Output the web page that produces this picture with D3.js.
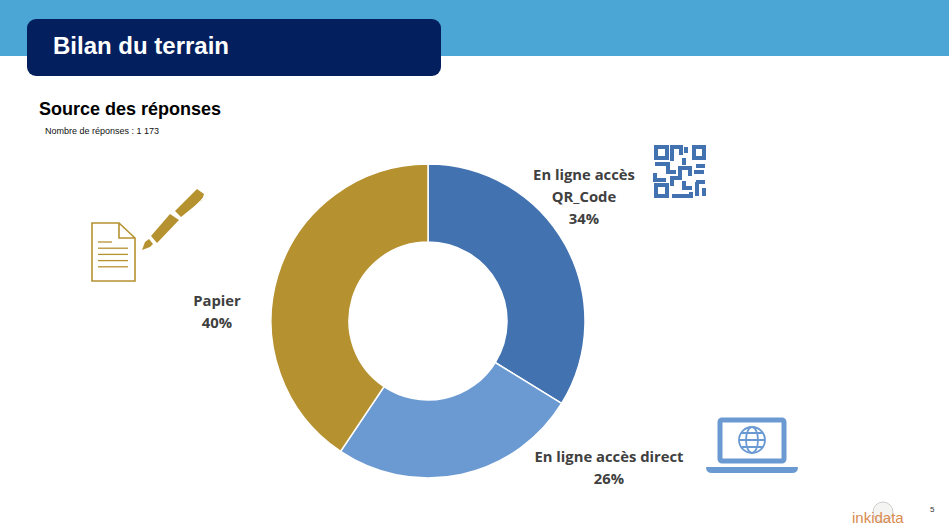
<!DOCTYPE html>
<html lang="fr">
<head>
<meta charset="utf-8">
<title>Bilan du terrain</title>
<script src="https://cdn.jsdelivr.net/npm/d3@7"></script>
<style>
  html, body { margin: 0; padding: 0; background: #fff; overflow: hidden; }
  svg { display: block; }
  .titre { font-family: "Liberation Sans", Arial, sans-serif; font-weight: bold; }
  .etiquette { font-family: "Open Sans", sans-serif; font-weight: bold; font-size: 14.8px; fill: #404040; text-anchor: middle; }
</style>
</head>
<body>
<svg id="chart" width="949" height="532"></svg>
<script>
const sources = ["En ligne accès QR_Code", "En ligne accès direct", "Papier"];
const valeurs = [33.8, 25.6, 40.6];
const couleurs = ["#4273b0", "#6b9ad2", "#b69130"];
const lignesEtiquettes = [["En ligne accès", "QR_Code", "34%"], ["En ligne accès direct", "26%"], ["Papier", "40%"]];
const posEtiquettes = [[584, 180], [609, 462], [217, 306]];

const svg = d3.select("#chart");

// Bandeau du haut
svg.append("rect").attr("width", 949).attr("height", 56).attr("fill", "#4ba5d5");
svg.append("rect").attr("x", 27).attr("y", 19).attr("width", 414).attr("height", 57)
  .attr("rx", 9).attr("fill", "#041f5e");
svg.append("text").attr("class", "titre").attr("x", 53).attr("y", 54)
  .attr("font-size", 24).attr("fill", "#fff").text("Bilan du terrain");

svg.append("text").attr("class", "titre").attr("x", 39).attr("y", 115)
  .attr("font-size", 18).attr("fill", "#000").text("Source des réponses");
svg.append("text").attr("x", 45).attr("y", 134)
  .attr("font-family", "Liberation Sans, Arial, sans-serif")
  .attr("font-size", 9).attr("fill", "#111").text("Nombre de réponses : 1 173");

// Anneau
const pie = d3.pie().sort(null)(valeurs);
const arc = d3.arc().innerRadius(79).outerRadius(157);
const anneau = svg.append("g").attr("transform", "translate(428,321)");
anneau.selectAll("path")
  .data(pie)
  .join("path")
  .attr("d", arc)
  .attr("fill", (d, i) => couleurs[i])
  .attr("stroke", "#fff")
  .attr("stroke-width", 1.5);

// Étiquettes
lignesEtiquettes.forEach((lignes, i) => {
  const t = svg.append("text").attr("class", "etiquette");
  lignes.forEach((l, j) => {
    t.append("tspan").attr("x", posEtiquettes[i][0]).attr("y", posEtiquettes[i][1] + j * 22).text(l);
  });
});

// Icône papier + stylo
const papier = svg.append("g").attr("fill", "none").attr("stroke", "#b69130");
papier.append("path").attr("stroke-width", 1.6)
  .attr("d", "M92,223H119L135,238V281H92Z M119,223V238H135");
[[98, 112], [98, 128], [98, 128], [98, 128], [98, 128]].forEach((l, i) => {
  papier.append("line").attr("x1", l[0]).attr("x2", l[1])
    .attr("y1", 242 + i * 6.2).attr("y2", 242 + i * 6.2).attr("stroke-width", 1.3);
});
const stylo = svg.append("g").attr("fill", "#b69130");
stylo.append("path").attr("d", "M142,250L145,242L149,239L153,244L150,247Z");
stylo.append("path").attr("d", "M151,236L170,214L179,220L157,243Z");
stylo.append("path").attr("d", "M175,211L197,189L204,194L202,200L181,217Z");
stylo.append("path").attr("d", "M203,198L188,214").attr("fill", "none").attr("stroke", "#fff").attr("stroke-width", 1);

// Icône QR code
const qr = svg.append("g").attr("fill", "none").attr("stroke", "#4273b0").attr("stroke-width", 4);
qr.append("path").attr("d", "M656,147H667V158H656Z M694,147H704V158H694Z M656,185H667V196H656Z");
qr.append("path").attr("d", "M672,161V147H681V155 M686,147V153 M655,164H668V172H676 M655,173V180H666 M672,186V178H680V168H690V176 M684,165V158 M696,166H705 M694,172H704 M684,181V188H692 M672,196H691V192 M696,182H705 M697,182V196 M704,188V196");

// Icône ordinateur
const pc = svg.append("g");
pc.append("rect").attr("x", 720).attr("y", 420).attr("width", 64).attr("height", 41)
  .attr("rx", 2).attr("fill", "#fff").attr("stroke", "#6b9ad2").attr("stroke-width", 5);
pc.append("path").attr("d", "M706,467H798Q798,473 792,473H712Q706,473 706,467Z").attr("fill", "#6b9ad2");
const globe = pc.append("g").attr("fill", "none").attr("stroke", "#6b9ad2").attr("stroke-width", 1.8);
globe.append("circle").attr("cx", 752).attr("cy", 440).attr("r", 13);
globe.append("ellipse").attr("cx", 752).attr("cy", 440).attr("rx", 6).attr("ry", 13);
globe.append("path").attr("d", "M739,440H765 M741,433H763 M741,447H763");

// Pied de page
svg.append("circle").attr("cx", 883).attr("cy", 512).attr("r", 10)
  .attr("fill", "#f4f4f2").attr("stroke", "#cfcfcf");
svg.append("text").attr("x", 852).attr("y", 523)
  .attr("font-family", "Liberation Sans, Arial, sans-serif")
  .attr("font-size", 15).attr("fill", "#d98a4e").text("inkidata");
svg.append("text").attr("x", 930).attr("y", 512)
  .attr("font-family", "Liberation Sans, Arial, sans-serif")
  .attr("font-size", 8).attr("fill", "#333").text("5");
</script>
</body>
</html>
